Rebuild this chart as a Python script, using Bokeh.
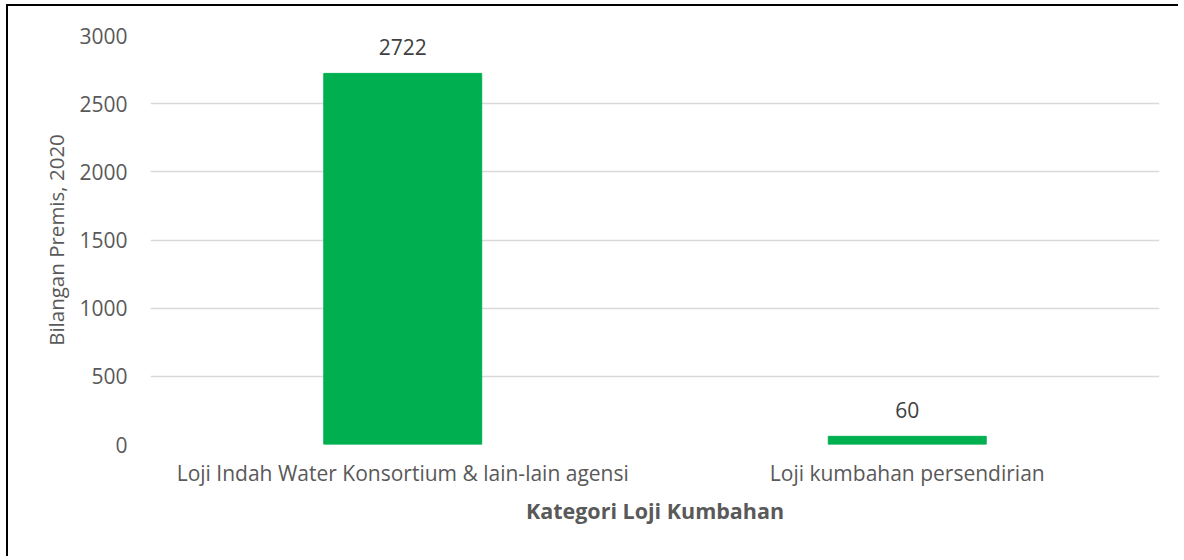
from bokeh.plotting import figure
from bokeh.models import ColumnDataSource, FactorRange, Range1d, LabelSet
from bokeh.core.properties import value
from bokeh.embed import file_html
from bokeh.resources import INLINE

categories = ["Loji Indah Water Konsortium & lain-lain agensi", "Loji kumbahan persendirian"]
values = [2722, 60]
labels = [str(v) for v in values]
y_ticks = [0, 500, 1000, 1500, 2000, 2500, 3000]

src = ColumnDataSource(dict(cat=categories, val=values, lab=labels))

FONT = "Open Sans"
p = figure(width=1172, height=552, x_range=FactorRange(*categories, range_padding=0),
           y_range=Range1d(0, 3000), output_backend="svg", toolbar_location=None,
           min_border_left=142, min_border_right=21, min_border_top=29, min_border_bottom=114)
p.vbar(x="cat", top="val", width=0.313, source=src, color="#00B050")
p.add_layout(LabelSet(x="cat", y="val", text="lab", source=src, y_offset=18,
                      text_align="center", text_baseline="alphabetic", text_font=value(FONT),
                      text_font_size="21px", text_color="#404040"))
p.outline_line_color = None
p.xgrid.grid_line_color = None
p.ygrid.grid_line_color = "#D9D9D9"
p.ygrid.grid_line_width = 1.5
p.yaxis.ticker = y_ticks
for ax in (p.xaxis[0], p.yaxis[0]):
    ax.axis_line_color = None
    ax.major_tick_line_color = None
    ax.minor_tick_line_color = None
    ax.major_label_text_font = FONT
    ax.major_label_text_font_size = "21px"
    ax.major_label_text_color = "#595959"
    ax.axis_label_text_font = FONT
    ax.axis_label_text_font_style = "normal"
p.yaxis.major_label_standoff = 17
p.xaxis.major_label_standoff = 8
p.xaxis.axis_label = "Kategori Loji Kumbahan"
p.xaxis.axis_label_text_font_style = "bold"
p.xaxis.axis_label_text_font_size = "21.5px"
p.xaxis.axis_label_text_color = "#595959"
p.xaxis.axis_label_standoff = 6
p.yaxis.axis_label = "Bilangan Premis, 2020"
p.yaxis.axis_label_text_font_size = "20.5px"
p.yaxis.axis_label_text_color = "#595959"
p.yaxis.axis_label_standoff = 6
p.styles = {"box-shadow": "-2px -2px 0px 0px #000000",
            "margin-left": "8px", "margin-top": "6px"}

open("out.html", "w").write(file_html(p, INLINE))
